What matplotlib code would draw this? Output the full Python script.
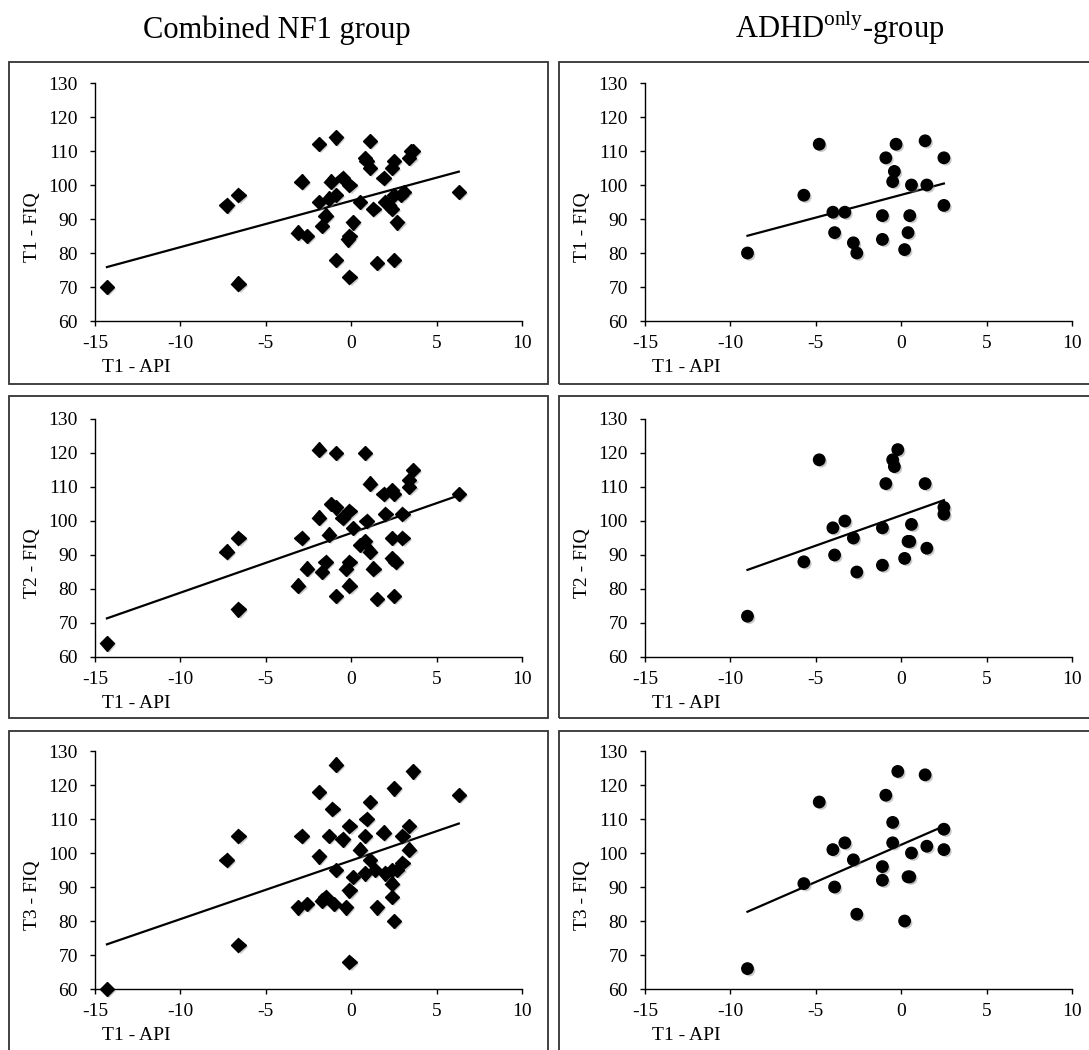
import numpy as np
import matplotlib
matplotlib.use("Agg")
import matplotlib.pyplot as plt
import matplotlib.patheffects as pe
from matplotlib.patches import Rectangle

plt.rcParams['font.family'] = ['Liberation Serif', 'DejaVu Serif']
plt.rcParams['mathtext.fontset'] = 'custom'
plt.rcParams['mathtext.rm'] = 'Liberation Serif'
plt.rcParams['axes.unicode_minus'] = False

# ---- data: combined NF1 group (x = T1 API) ----
nf1_x1 = [-14.3, -7.3, -6.6, -6.6, -2.9, -3.1, -2.6, -1.9, -1.9, -1.7, -1.5, -1.3, -1.2, -0.9,
          -0.9, -0.9, -0.5, -0.1, -0.2, -0.1, -0.1, 0.1, 0.5, 0.8, 0.9, 1.1, 1.1, 1.3, 1.5, 1.9,
          2.0, 2.2, 2.4, 2.5, 2.4, 2.5, 2.5, 2.7, 2.9, 3.1, 3.4, 3.5, 3.6, 6.3]
nf1_t1 = [70, 94, 97, 71, 101, 86, 85, 112, 95, 88, 91, 96, 101, 97,
          114, 78, 102, 100, 84, 85, 73, 89, 95, 108, 107, 113, 105, 93, 77, 102,
          95, 94, 93, 107, 105, 97, 78, 89, 97, 98, 108, 110, 110, 98]

nf1_x2 = [-14.3, -7.3, -6.6, -6.6, -3.1, -2.9, -2.6, -1.9, -1.9, -1.7, -1.5, -1.3, -1.2, -0.9,
          -0.9, -0.9, -0.5, -0.1, -0.3, -0.1, -0.1, 0.1, 0.5, 0.8, 0.8, 0.9, 1.1, 1.1, 1.3, 1.5,
          1.9, 2.0, 2.4, 2.4, 2.5, 2.4, 2.6, 2.5, 3.0, 3.0, 3.4, 3.4, 3.6, 6.3]
nf1_t2 = [64, 91, 95, 74, 81, 95, 86, 121, 101, 85, 88, 96, 105, 104,
          120, 78, 101, 103, 86, 88, 81, 98, 93, 94, 120, 100, 111, 91, 86, 77,
          108, 102, 95, 109, 108, 89, 88, 78, 102, 95, 110, 112, 115, 108]

nf1_x3 = [-14.3, -7.3, -6.6, -6.6, -3.1, -2.6, -2.9, -1.9, -1.9, -1.7, -1.5, -1.3, -1.1, -0.9,
          -0.9, -1.0, -0.5, -0.1, -0.3, -0.1, -0.1, 0.1, 0.5, 0.8, 0.8, 0.9, 1.1, 1.1, 1.4, 1.5,
          1.9, 2.0, 2.5, 2.4, 2.7, 2.4, 2.4, 2.5, 3.0, 3.0, 3.4, 3.4, 3.6, 6.3]
nf1_t3 = [60, 98, 105, 73, 84, 85, 105, 118, 99, 86, 87, 105, 113, 126,
          95, 85, 104, 108, 84, 89, 68, 93, 101, 94, 105, 110, 98, 115, 95, 84,
          106, 94, 119, 95, 95, 91, 87, 80, 97, 105, 101, 108, 124, 117]

# ---- data: ADHD-only group (x = T1 API) ----
adhd_x1 = [-9.0, -5.7, -4.8, -4.0, -3.9, -3.3, -2.8, -2.6, -1.1, -1.1, -0.9, -0.5, -0.4, -0.3,
           0.2, 0.4, 0.5, 0.6, 1.4, 1.5, 2.5, 2.5]
adhd_t1 = [80, 97, 112, 92, 86, 92, 83, 80, 84, 91, 108, 101, 104, 112,
           81, 86, 91, 100, 113, 100, 108, 94]

adhd_x2 = [-9.0, -5.7, -4.8, -4.0, -3.9, -3.3, -2.8, -2.6, -1.1, -1.1, -0.9, -0.5, -0.4, -0.2,
           0.2, 0.4, 0.5, 0.6, 1.4, 1.5, 2.5, 2.5]
adhd_t2 = [72, 88, 118, 98, 90, 100, 95, 85, 87, 98, 111, 118, 116, 121,
           89, 94, 94, 99, 111, 92, 104, 102]

adhd_x3 = [-9.0, -5.7, -4.8, -4.0, -3.9, -3.3, -2.8, -2.6, -1.1, -1.1, -0.9, -0.5, -0.5, -0.2,
           0.2, 0.4, 0.5, 0.6, 1.4, 1.5, 2.5, 2.5]
adhd_t3 = [66, 91, 115, 101, 90, 103, 98, 82, 92, 96, 117, 103, 109, 124,
           80, 93, 93, 100, 123, 102, 107, 101]

col_titles = ["Combined NF1 group", r"ADHD$^{\mathrm{only}}$-group"]
y_labels = ["T1 - FIQ", "T2 - FIQ", "T3 - FIQ"]
x_label = "T1 - API"

W, H = 1089, 1050
fig = plt.figure(figsize=(W / 100, H / 100), dpi=100)

# pixel layout
col_axes_x = [95, 645]
axes_w = 427
row_axes_top = [83, 419, 751]
axes_h = 238
col_box_x = [(9, 548), (559, 1100)]
row_box_y = [(62, 384), (396, 718), (731, 1060)]

panels = [
    [(nf1_x1, nf1_t1), (adhd_x1, adhd_t1)],
    [(nf1_x2, nf1_t2), (adhd_x2, adhd_t2)],
    [(nf1_x3, nf1_t3), (adhd_x3, adhd_t3)],
]
markers = ['D', 'o']
msizes = [7.3, 8.2]

shadow = [pe.SimplePatchShadow(offset=(1.5, -1.5), shadow_rgbFace='#888888', alpha=0.45), pe.Normal()]

for r in range(3):
    for c in range(2):
        # panel frame
        x0, x1 = col_box_x[c]
        y0, y1 = row_box_y[r]
        fig.patches.append(Rectangle((x0 / W, 1 - y1 / H), (x1 - x0) / W, (y1 - y0) / H,
                                     transform=fig.transFigure, fill=False,
                                     edgecolor='#333333', linewidth=1.3))

        ax = fig.add_axes([col_axes_x[c] / W, 1 - (row_axes_top[r] + axes_h) / H,
                           axes_w / W, axes_h / H])
        x, y = panels[r][c]
        x = np.array(x)
        y = np.array(y)
        ax.plot(x, y, linestyle='none', marker=markers[c], markersize=msizes[c],
                color='black', path_effects=shadow, clip_on=False, zorder=3)
        k, b = np.polyfit(x, y, 1)
        xl = np.array([x.min(), x.max()])
        ax.plot(xl, k * xl + b, color='black', linewidth=1.6, zorder=2)

        ax.set_xlim(-15, 10)
        ax.set_ylim(60, 130)
        ax.set_xticks([-15, -10, -5, 0, 5, 10])
        ax.set_yticks(range(60, 131, 10))
        ax.spines['top'].set_visible(False)
        ax.spines['right'].set_visible(False)
        ax.spines['left'].set_linewidth(1.0)
        ax.spines['bottom'].set_linewidth(1.0)
        ax.tick_params(axis='both', direction='out', length=3.3, width=1.0, labelsize=14)
        ax.tick_params(axis='y', pad=9)
        ax.tick_params(axis='x', pad=6.5)
        ax.patch.set_alpha(0)

        ax.text(-63 / axes_w, 0.395, y_labels[r], transform=ax.transAxes, rotation=90,
                ha='center', va='center', fontsize=14)
        ax.text(7 / axes_w, -47 / axes_h, x_label, transform=ax.transAxes,
                ha='left', va='center', fontsize=14)

fig.text(277 / W, 1 - 38 / H, col_titles[0], ha='center', va='baseline', fontsize=22)
fig.text(840 / W, 1 - 38 / H, col_titles[1], ha='center', va='baseline', fontsize=22)

fig.savefig("out.png", dpi=100)
